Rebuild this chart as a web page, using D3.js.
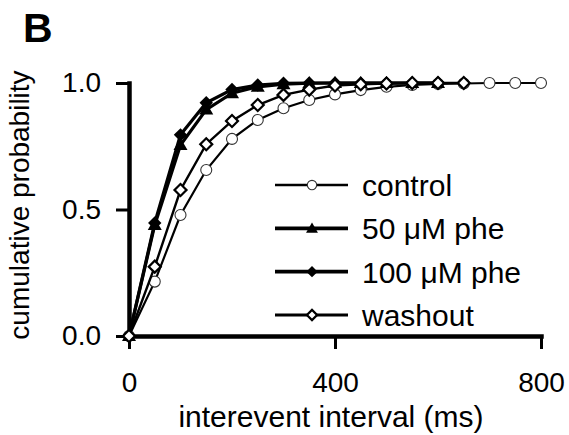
<!DOCTYPE html>
<html>
<head>
<meta charset="utf-8">
<script src="https://cdn.jsdelivr.net/npm/d3@7"></script>
<style>
  body { margin: 0; background: #fff; }
  svg text { font-family: "Liberation Sans", Arial, sans-serif; fill: #000; }
</style>
</head>
<body>
<div id="container"></div>
<script>
//### DATA ###
//>>> interevent interval bins (ms)
const intervals = [ 0, 50, 100, 150, 200, 250, 300, 350, 400, 450, 500, 550, 600, 650, 700, 750, 800 ];
//>>> cumulative probability per condition (each starts at 0 ms)
const control = [ 0, 0.215, 0.478, 0.656, 0.779, 0.854, 0.90, 0.933, 0.955, 0.972, 0.985, 0.992, 0.996, 0.998, 1.0, 1.0, 1.0 ];
const phe50 = [ 0, 0.439, 0.755, 0.895, 0.96, 0.985, 0.995, 0.999, 1.0, 1.0, 1.0, 1.0, 1.0 ];
const phe100 = [ 0, 0.447, 0.795, 0.922, 0.974, 0.992, 0.999, 1.0, 1.0, 1.0, 1.0, 1.0, 1.0 ];
const washout = [ 0, 0.274, 0.577, 0.758, 0.85, 0.913, 0.953, 0.974, 0.99, 0.995, 0.998, 1.0, 1.0, 1.0 ];
//>>> labels / ticks
const seriesNames = [ 'control', '50 \u03BCM phe', '100 \u03BCM phe', 'washout' ];
const xTicks = [ 0, 400, 800 ];
const yTicks = [ 0, 0.5, 1.0 ];

//### LAYOUT ###
const width = 569;
const height = 435;

const svg = d3.select( '#container' )
  .append( 'svg' )
  .attr( 'width', width )
  .attr( 'height', height );

const x = d3.scaleLinear().domain( [ 0, 800 ] ).range( [ 129, 541 ] );
const y = d3.scaleLinear().domain( [ 0, 1 ] ).range( [ 336, 83 ] );

//>>> marker styles per series
const series = [
  { name: seriesNames[ 0 ], values: control, shape: 'circle', lw: 2.2 },
  { name: seriesNames[ 1 ], values: phe50, shape: 'triangle', lw: 3.2 },
  { name: seriesNames[ 2 ], values: phe100, shape: 'filledDiamond', lw: 3.2 },
  { name: seriesNames[ 3 ], values: washout, shape: 'openDiamond', lw: 2.4 }
];

function drawMarker ( g, shape, scale ) {
  const k = scale || 1;
  if ( shape === 'circle' ) {
    g.append( 'circle' ).attr( 'r', 5.5 * k )
      .attr( 'fill', '#fff' ).attr( 'stroke', '#333' ).attr( 'stroke-width', 1.1 );
  } else if ( shape === 'triangle' ) {
    g.append( 'path' ).attr( 'd', d3.symbol( d3.symbolTriangle, 85 * k * k )() )
      .attr( 'transform', 'translate(0,1)' )
      .attr( 'fill', '#000' );
  } else if ( shape === 'filledDiamond' ) {
    g.append( 'path' ).attr( 'd', d3.symbol( d3.symbolSquare, 90 * k * k )() )
      .attr( 'transform', 'rotate(45)' )
      .attr( 'fill', '#000' );
  } else {
    g.append( 'path' ).attr( 'd', d3.symbol( d3.symbolSquare, 72 * k * k )() )
      .attr( 'transform', 'rotate(45)' )
      .attr( 'fill', '#fff' ).attr( 'stroke', '#000' ).attr( 'stroke-width', 2.2 );
  }
}

//### SERIES ###
const line = d3.line()
  .x( ( d, i ) => x( intervals[ i ] ) )
  .y( d => y( d ) );

series.forEach( s => {
  const g = svg.append( 'g' ).attr( 'class', 'series' );
  g.append( 'path' )
    .attr( 'd', line( s.values ) )
    .attr( 'fill', 'none' )
    .attr( 'stroke', '#000' )
    .attr( 'stroke-width', s.lw );
  g.selectAll( 'g.pt' )
    .data( s.values )
    .enter().append( 'g' )
    .attr( 'class', 'pt' )
    .attr( 'transform', ( d, i ) => `translate(${x( intervals[ i ] )},${y( d )})` )
    .each( function () { drawMarker( d3.select( this ), s.shape ); } );
} );

//### AXES ###
const xAxis = svg.append( 'g' )
  .attr( 'transform', `translate(0,${y( 0 )})` )
  .call( d3.axisBottom( x ).tickValues( xTicks ).tickSize( 13 ).tickSizeOuter( 0 ).tickPadding( 23 ) );

const yAxis = svg.append( 'g' )
  .attr( 'transform', `translate(${x( 0 )},0)` )
  .call( d3.axisLeft( y ).tickValues( yTicks ).tickSize( 13 ).tickSizeOuter( 0 ).tickPadding( 15 )
    .tickFormat( d3.format( '.1f' ) ) );

[ xAxis, yAxis ].forEach( ax => {
  ax.select( '.domain' ).attr( 'stroke', '#000' ).attr( 'stroke-width', 4.5 ).attr( 'stroke-linecap', 'square' );
  ax.selectAll( '.tick line' ).attr( 'stroke', '#000' ).attr( 'stroke-width', 3 );
  ax.selectAll( '.tick text' ).style( 'font-size', '28px' ).attr( 'fill', '#000' );
} );
//>>> keep the origin markers above the axes
svg.selectAll( 'g.series' ).each( function () {
  d3.select( this ).raise().select( 'g.pt' ).raise();
} );

//>>> axis titles
svg.append( 'text' )
  .attr( 'x', 331 ).attr( 'y', 427 )
  .attr( 'text-anchor', 'middle' )
  .style( 'font-size', '30px' )
  .text( 'interevent interval (ms)' );

svg.append( 'text' )
  .attr( 'transform', 'translate(29,205) rotate(-90)' )
  .attr( 'text-anchor', 'middle' )
  .style( 'font-size', '28px' )
  .text( 'cumulative probability' );

//>>> panel letter
svg.append( 'text' )
  .attr( 'x', 23 ).attr( 'y', 42 )
  .style( 'font-size', '41px' )
  .style( 'font-weight', 'bold' )
  .text( 'B' );

//### LEGEND ###
const legend = svg.append( 'g' ).attr( 'id', 'legend' );
const rowY = d3.scalePoint().domain( seriesNames ).range( [ 185, 315 ] );

series.forEach( s => {
  const row = legend.append( 'g' ).attr( 'transform', `translate(0,${rowY( s.name )})` );
  row.append( 'line' )
    .attr( 'x1', 275 ).attr( 'x2', 348 )
    .attr( 'stroke', '#000' ).attr( 'stroke-width', s.lw + 0.4 );
  const m = row.append( 'g' ).attr( 'transform', 'translate(312,0)' );
  drawMarker( m, s.shape, 0.85 );
  row.append( 'text' )
    .attr( 'x', 362 ).attr( 'y', 11 )
    .style( 'font-size', '30px' )
    .text( s.name );
} );
</script>
</body>
</html>
